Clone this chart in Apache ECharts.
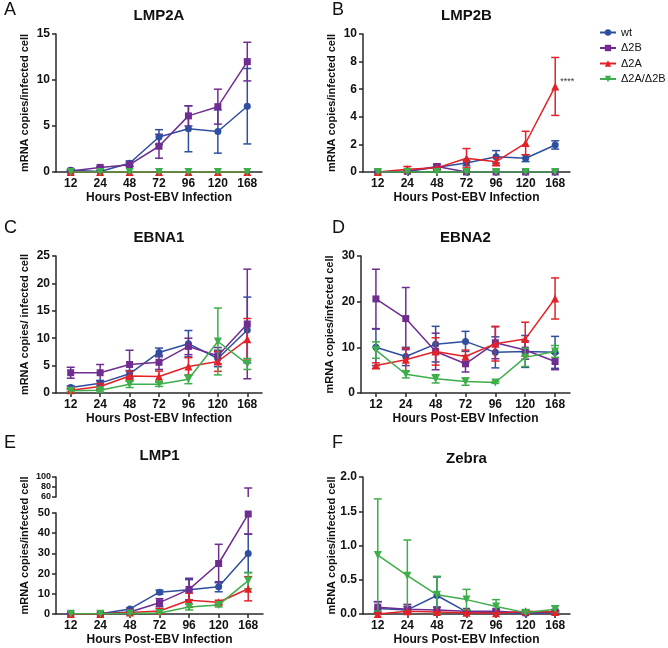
<!DOCTYPE html>
<html><head><meta charset="utf-8">
<script src="https://cdn.jsdelivr.net/npm/echarts@6/dist/echarts.min.js"></script>
<style>html,body{margin:0;padding:0;background:#fff}#c{width:668px;height:648px}</style>
</head><body><div id="c"></div><script>
// ---------- DATA ----------
const hours = ['12','24','48','72','96','120','168'];
const seriesNames = ['wt','Δ2B','Δ2A','Δ2A/Δ2B'];

// A: LMP2A
const lmp2aWt = [0.2, 0.05, 0.95, 3.8, 4.7, 4.4, 7.15];
const lmp2aWtErr = [0.1, 0.05, 0.25, 0.8, 2.5, 2.35, 4.1];
const lmp2aD2B = [0.1, 0.5, 0.8, 2.8, 6.1, 7.1, 12.0];
const lmp2aD2BErr = [0.05, 0.1, 0.2, 1.3, 1.1, 1.9, 2.1];
const lmp2aD2A = [0, 0, 0, 0, 0, 0, 0];
const lmp2aD2AErr = [0, 0, 0, 0, 0, 0, 0];
const lmp2aDD = [0, 0, 0, 0, 0, 0, 0];
const lmp2aDDErr = [0, 0, 0, 0, 0, 0, 0];

// B: LMP2B
const lmp2bWt = [0, 0.05, 0.35, 0.65, 1.1, 1.0, 1.96];
const lmp2bWtErr = [0, 0.03, 0.2, 0.2, 0.45, 0.25, 0.3];
const lmp2bD2B = [0, 0.05, 0.4, 0, 0, 0, 0];
const lmp2bD2BErr = [0, 0, 0.15, 0, 0, 0, 0];
const lmp2bD2A = [0, 0.2, 0.3, 1.0, 0.75, 2.1, 6.2];
const lmp2bD2AErr = [0, 0.2, 0.1, 0.7, 0.3, 0.85, 2.1];
const lmp2bDD = [0, 0, 0, 0, 0, 0, 0];
const lmp2bDDErr = [0, 0, 0, 0, 0, 0, 0];
const lmp2bMark = {series: 2, index: 6, text: '****'};

// C: EBNA1
const ebna1Wt = [1.0, 1.8, 3.5, 7.4, 9.0, 6.3, 11.5];
const ebna1WtErr = [0.3, 0.5, 0.6, 0.8, 2.4, 1.5, 6.0];
const ebna1D2B = [3.7, 3.7, 5.2, 5.6, 8.5, 6.8, 12.6];
const ebna1D2BErr = [1.0, 1.5, 2.6, 1.3, 1.5, 1.5, 10.0];
const ebna1D2A = [0.5, 1.2, 3.1, 3.0, 4.85, 5.75, 9.8];
const ebna1D2AErr = [0.4, 0.5, 0.9, 1.0, 1.6, 1.8, 3.8];
const ebna1DD = [0.4, 0.5, 1.6, 1.6, 2.5, 9.4, 5.3];
const ebna1DDErr = [0.2, 0.3, 0.6, 0.4, 0.8, 6.1, 1.0];

// D: EBNA2
const ebna2Wt = [10.0, 8.0, 10.7, 11.3, 8.9, 9.1, 8.9];
const ebna2WtErr = [4.0, 2.0, 3.9, 2.2, 3.4, 3.5, 3.5];
const ebna2D2B = [20.6, 16.3, 9.1, 6.4, 11.0, 9.4, 6.9];
const ebna2D2BErr = [6.5, 6.8, 4.0, 1.8, 3.5, 2.0, 1.8];
const ebna2D2A = [6.0, 7.3, 9.1, 8.0, 10.8, 11.8, 20.7];
const ebna2D2AErr = [0.6, 2.5, 3.0, 1.4, 3.8, 3.7, 4.5];
const ebna2DD = [9.4, 4.1, 3.1, 2.5, 2.3, 7.8, 9.1];
const ebna2DDErr = [1.8, 0.8, 0.9, 0.8, 0.2, 2.0, 1.3];

// E: LMP1 (error given as number or [below, above])
const lmp1Wt = [0.1, 0.1, 2.5, 10.8, 12.0, 13.5, 30.0];
const lmp1WtErr = [0.1, 0.1, 0.5, 1.0, 5.0, 2.5, 9.5];
const lmp1D2B = [0.1, 0.2, 1.0, 5.6, 12.2, 25.0, 49.5];
const lmp1D2BErr = [0.1, 0.1, 0.5, 2.0, 5.5, 9.5, [9.9, 28.5]];
const lmp1D2A = [0, 0, 0.8, 1.5, 6.8, 5.8, 12.5];
const lmp1D2AErr = [0, 0, 0.3, 1.2, 3.5, 1.0, 6.0];
const lmp1DD = [0.1, 0.1, 0.3, 0.5, 3.5, 4.5, 16.5];
const lmp1DDErr = [0, 0, 0.2, 0.3, 1.5, 1.0, 4.0];

// F: Zebra
const zebraWt = [0.08, 0.06, 0.27, 0.03, 0.02, 0.01, 0.02];
const zebraWtErr = [0.1, 0.05, 0.27, 0.02, 0.02, 0.01, 0.02];
const zebraD2B = [0.1, 0.07, 0.06, 0.04, 0.04, 0.02, 0.03];
const zebraD2BErr = [0.08, 0.07, 0.04, 0.02, 0.03, 0.01, 0.02];
const zebraD2A = [0.0, 0.04, 0.03, 0.02, 0.01, 0.04, 0.03];
const zebraD2AErr = [0.01, 0.02, 0.02, 0.01, 0.01, 0.02, 0.01];
const zebraDD = [0.86, 0.56, 0.28, 0.21, 0.11, 0.02, 0.07];
const zebraDDErr = [0.82, 0.52, 0.27, 0.15, 0.1, 0.01, 0.05];

// ---------- STYLE ----------
const FONT = "'Liberation Sans', Arial, sans-serif";
const COLORS = ['#2E4EA0', '#6F2D91', '#E42127', '#3DAE4A'];
const SYMBOLS = ['circle', 'rect', 'triangle', 'triangle'];
const SYMROT = [0, 0, 0, 180];
const SYMSIZE = [7, 7, 8, 8];
const AX = '#2a2a2a';
const TXT = '#111';

const option = {
  animation: false,
  backgroundColor: '#fff',
  textStyle: {fontFamily: FONT},
  title: [], grid: [], xAxis: [], yAxis: [], series: [],
  legend: {
    data: seriesNames, orient: 'vertical', left: 594, top: 22,
    itemWidth: 16, itemHeight: 8, itemGap: 4.5,
    textStyle: {fontSize: 11, color: TXT, fontFamily: FONT}
  }
};

function xAxisCfg(gi, show) {
  return {
    type: 'category', gridIndex: gi, data: hours, show: show, boundaryGap: true,
    axisLine: {lineStyle: {color: AX, width: 1.5}},
    axisTick: {show: true, alignWithLabel: true, length: 4, lineStyle: {color: AX, width: 1.5}},
    axisLabel: {margin: 6, fontSize: 12, fontWeight: 'bold', color: TXT, fontFamily: FONT},
    name: show ? 'Hours Post-EBV Infection' : '', nameLocation: 'middle', nameGap: 20,
    nameTextStyle: {fontSize: 12, fontWeight: 'bold', color: TXT, fontFamily: FONT}
  };
}
function yAxisCfg(gi, min, max, interval, name, extra) {
  return Object.assign({
    type: 'value', gridIndex: gi, min: min, max: max, interval: interval,
    splitLine: {show: false},
    axisLine: {show: true, lineStyle: {color: AX, width: 1.5}},
    axisTick: {show: true, length: 4, lineStyle: {color: AX, width: 1.5}},
    axisLabel: {margin: 6, fontSize: 12, fontWeight: 'bold', color: TXT, fontFamily: FONT},
    name: name, nameLocation: 'middle', nameGap: 26, nameMoveOverlap: false,
    nameTextStyle: {fontSize: 11, fontWeight: 'bold', color: TXT, fontFamily: FONT}
  }, extra || {});
}
function errRender(color) {
  return function (params, api) {
    const x = api.value(0), lo = api.value(1), hi = api.value(2);
    const pLo = api.coord([x, lo]), pHi = api.coord([x, hi]);
    const w = 4;
    const st = {stroke: color, lineWidth: 1.5, fill: null};
    return {type: 'group', children: [
      {type: 'line', shape: {x1: pLo[0], y1: pLo[1], x2: pHi[0], y2: pHi[1]}, style: st},
      {type: 'line', shape: {x1: pHi[0] - w, y1: pHi[1], x2: pHi[0] + w, y2: pHi[1]}, style: st},
      {type: 'line', shape: {x1: pLo[0] - w, y1: pLo[1], x2: pLo[0] + w, y2: pLo[1]}, style: st}
    ]};
  };
}
function errData(vals, errs) {
  const out = [];
  vals.forEach(function (v, i) {
    const e = errs[i];
    const below = Array.isArray(e) ? e[0] : e;
    const above = Array.isArray(e) ? e[1] : e;
    if (below + above > 0.0001) out.push([i, v - below, v + above]);
  });
  return out;
}
function addTitle(text, cx, top, letter, lx, ltop) {
  option.title.push({text: text, left: cx, top: top, textAlign: 'center', padding: 0,
    textStyle: {fontSize: 15, fontWeight: 'bold', color: TXT, fontFamily: FONT}});
  option.title.push({text: letter, left: lx, top: ltop, padding: 0,
    textStyle: {fontSize: 18, fontWeight: 'normal', color: TXT, fontFamily: FONT}});
}
function addLines(xi, yi, vals, mark) {
  vals.forEach(function (arr, s) {
    const data = arr.map(function (v, i) {
      if (mark && mark.series === s && mark.index === i) {
        return {value: v, label: {show: true, position: 'right', distance: 1, offset: [0, -5],
          formatter: mark.text, fontSize: 9, color: '#333', fontFamily: FONT}};
      }
      return v;
    });
    option.series.push({
      type: 'line', name: seriesNames[s], xAxisIndex: xi, yAxisIndex: yi, data: data,
      symbol: SYMBOLS[s], symbolSize: SYMSIZE[s], symbolRotate: SYMROT[s],
      itemStyle: {color: COLORS[s]}, lineStyle: {width: 1.5, color: COLORS[s]}, z: 3 + s
    });
  });
}
function addErrs(xi, yi, vals, errs) {
  vals.forEach(function (arr, s) {
    option.series.push({
      type: 'custom', name: seriesNames[s] + ' error', xAxisIndex: xi, yAxisIndex: yi, clip: true,
      encode: {x: 0, y: [1, 2]}, data: errData(arr, errs[s]), renderItem: errRender(COLORS[s]),
      silent: true, z: 2 + s
    });
  });
}

const panels = [
  {letter: 'A', title: 'LMP2A', grid: {left: 56, top: 34, width: 206, height: 138}, lx: 4, ly: 1,
   min: 0, max: 15, interval: 5, yname: 'mRNA copies/infected cell',
   vals: [lmp2aWt, lmp2aD2B, lmp2aD2A, lmp2aDD], errs: [lmp2aWtErr, lmp2aD2BErr, lmp2aD2AErr, lmp2aDDErr]},
  {letter: 'B', title: 'LMP2B', grid: {left: 363, top: 34, width: 207, height: 138}, lx: 332, ly: 1,
   min: 0, max: 10, interval: 2, yname: 'mRNA copies/infected cell', mark: lmp2bMark,
   vals: [lmp2bWt, lmp2bD2B, lmp2bD2A, lmp2bDD], errs: [lmp2bWtErr, lmp2bD2BErr, lmp2bD2AErr, lmp2bDDErr]},
  {letter: 'C', title: 'EBNA1', grid: {left: 56, top: 256, width: 206, height: 137}, lx: 4, ly: 219,
   min: 0, max: 25, interval: 5, yname: 'mRNA copies/ infected cell',
   vals: [ebna1Wt, ebna1D2B, ebna1D2A, ebna1DD], errs: [ebna1WtErr, ebna1D2BErr, ebna1D2AErr, ebna1DDErr]},
  {letter: 'D', title: 'EBNA2', grid: {left: 361, top: 256, width: 209, height: 137}, lx: 332, ly: 219,
   min: 0, max: 30, interval: 10, yname: 'mRNA copies/infected cell',
   vals: [ebna2Wt, ebna2D2B, ebna2D2A, ebna2DD], errs: [ebna2WtErr, ebna2D2BErr, ebna2D2AErr, ebna2DDErr]},
  {letter: 'F', title: 'Zebra', grid: {left: 363, top: 477, width: 207, height: 137}, lx: 332, ly: 434,
   min: 0, max: 2, interval: 0.5, yname: 'mRNA copies/infected cell', fmt: function (v) { return v.toFixed(1); },
   vals: [zebraWt, zebraD2B, zebraD2A, zebraDD], errs: [zebraWtErr, zebraD2BErr, zebraD2AErr, zebraDDErr]}
];

panels.forEach(function (p) {
  const gi = option.grid.length;
  option.grid.push(p.grid);
  option.xAxis.push(xAxisCfg(gi, true));
  const y = yAxisCfg(gi, p.min, p.max, p.interval, p.yname);
  if (p.fmt) y.axisLabel.formatter = p.fmt;
  option.yAxis.push(y);
  addTitle(p.title, p.grid.left + p.grid.width / 2, p.grid.top - 26, p.letter, p.lx, p.ly);
  addErrs(gi, gi, p.vals, p.errs);
});
panels.forEach(function (p, k) {
  addLines(k, k, p.vals, p.mark);
});

// E: LMP1 with broken y axis (two grids)
(function () {
  const vals = [lmp1Wt, lmp1D2B, lmp1D2A, lmp1DD];
  const errs = [lmp1WtErr, lmp1D2BErr, lmp1D2AErr, lmp1DDErr];
  const gBot = option.grid.length;
  option.grid.push({left: 56, top: 513, width: 207, height: 101});
  option.xAxis.push(xAxisCfg(gBot, true));
  option.yAxis.push(yAxisCfg(gBot, 0, 50, 10, '', {axisLabel: {margin: 6, fontSize: 11, fontWeight: 'bold', color: TXT, fontFamily: FONT}}));
  const gTop = option.grid.length;
  option.grid.push({left: 56, top: 477, width: 207, height: 20});
  option.xAxis.push(xAxisCfg(gTop, false));
  option.yAxis.push(yAxisCfg(gTop, 60, 100, 20, '', {axisLabel: {margin: 5, fontSize: 9, fontWeight: 'bold', color: TXT, fontFamily: FONT}}));
  const gName = option.grid.length;
  option.grid.push({left: 56, top: 477, width: 207, height: 137});
  option.xAxis.push(xAxisCfg(gName, false));
  option.yAxis.push(yAxisCfg(gName, 0, 1, 1, 'mRNA copies/infected cell',
    {axisLine: {show: false}, axisTick: {show: false}, axisLabel: {show: false}}));
  addTitle('LMP1', 56 + 207 / 2, 448, 'E', 4, 434);
  addErrs(gBot, gBot, vals, errs);
  addErrs(gTop, gTop, vals, errs);
  addLines(gBot, gBot, vals, null);
})();

const chart = echarts.init(document.getElementById('c'), null, {renderer: 'canvas'});
chart.setOption(option);
</script></body></html>
